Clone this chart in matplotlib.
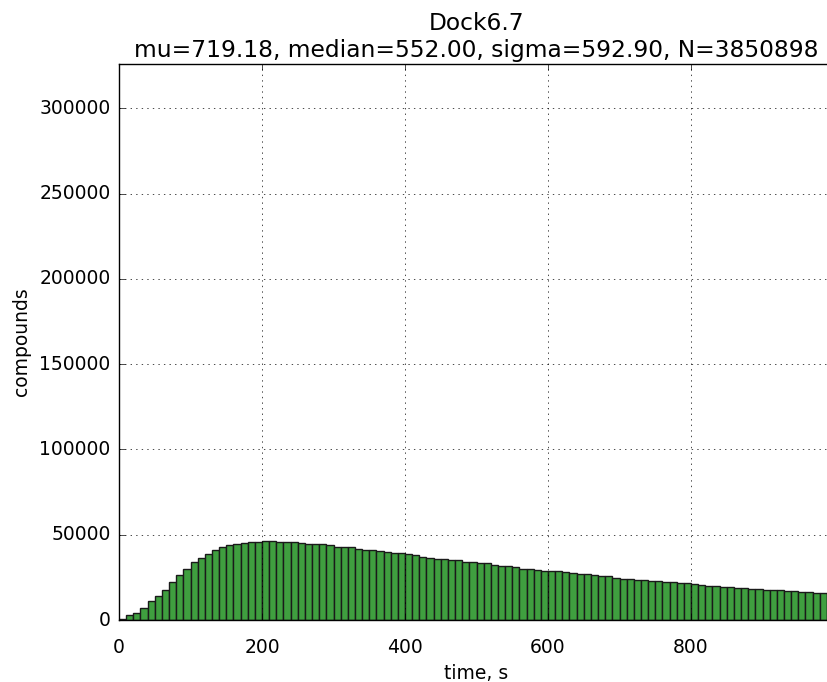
import matplotlib
matplotlib.use("Agg")
import matplotlib.pyplot as plt
import numpy as np

plt.style.use("classic")

# histogram of docking times, 10 s bins from 0 to 1000 s
bin_edges = np.arange(0, 1001, 10)
counts = [
    600, 2700, 4300, 7100, 11300, 13800, 17400, 22100, 26300, 30200,
    33800, 36400, 38900, 41100, 42700, 43900, 44700, 45300, 45800, 46000,
    46200, 46600, 46000, 46000, 45800, 45100, 44500, 44300, 44300, 43700,
    43100, 42900, 42700, 41700, 41300, 41100, 40500, 39900, 39100, 39100,
    38700, 38000, 37100, 36400, 35600, 35600, 35000, 35000, 33800, 33800,
    33200, 33200, 32400, 31400, 31400, 30800, 30200, 30200, 29600, 28800,
    28500, 28500, 27900, 27700, 27000, 27000, 26300, 25700, 25700, 24900,
    24100, 24100, 23500, 23500, 22700, 22700, 22100, 22100, 21700, 21700,
    21100, 20800, 20200, 20200, 19600, 19200, 18700, 18600, 18000, 18000,
    17400, 17400, 17400, 16800, 16800, 16200, 16200, 16000, 15800, 15600,
]

title = "Dock6.7\nmu=719.18, median=552.00, sigma=592.90, N=3850898"

fig = plt.figure(figsize=(8.27, 6.82), dpi=100, facecolor="white")
ax = fig.add_axes([0.1439, 0.0909, 0.8646, 0.8152])

ax.bar(bin_edges[:-1], counts, width=10, align="edge",
       facecolor="#3f9f3f", edgecolor="#1a1a1a", linewidth=1.0)

ax.set_xlim(0, 1000)
ax.set_ylim(0, 326000)
ax.set_xticks([0, 200, 400, 600, 800])
ax.set_yticks(np.arange(0, 300001, 50000))
ax.tick_params(labelsize=13.5)
ax.tick_params(axis="x", pad=13)
ax.tick_params(axis="y", pad=6)
ax.grid(True)
ax.set_xlabel("time, s", fontsize=13.5)
ax.set_ylabel("compounds", fontsize=13.5, labelpad=6)
ax.set_title(title, fontsize=16.8)

fig.savefig("out.png", dpi=100, facecolor="white")
